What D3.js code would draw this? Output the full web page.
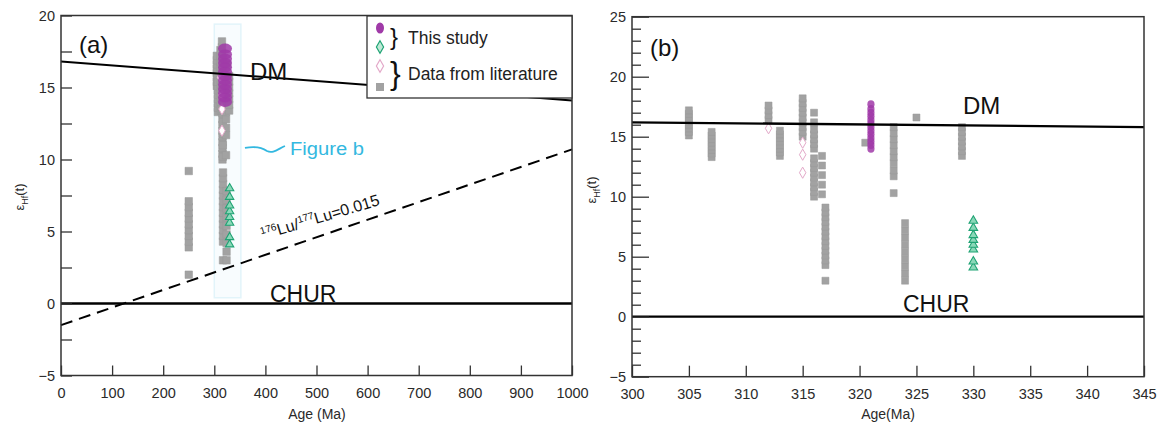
<!DOCTYPE html>
<html>
<head>
<meta charset="utf-8">
<script src="https://cdn.jsdelivr.net/npm/d3@7/dist/d3.min.js"></script>
<style>
  html, body { margin: 0; padding: 0; background: #fff; }
  svg { display: block; font-family: "Liberation Sans", Arial, sans-serif; }
</style>
</head>
<body>
<svg id="chart" width="1167" height="426"></svg>
<script>
// ---- Data -------------------------------------------------------------
// Reference evolution lines: [age (Ma), εHf(t)]
const dmLineA = [[0, 16.8], [1000, 14.1]];
const dmLineB = [[300, 16.2], [345, 15.8]];
const churLine = [[0, 0], [1000, 0]];
const luLine = [[0, -1.5], [1000, 10.7]];   // 176Lu/177Lu = 0.015 crustal trend

// This study: zircon Hf results, [age, list of εHf(t)]
const thisStudyPurple = [
  [321, [14.0, 14.3, 14.6, 14.9, 15.2, 15.5, 15.8, 16.1, 16.4, 16.7, 17.0, 17.3, 17.7]]
];
const thisStudyGreen = [
  [330, [4.1, 4.6, 5.6, 6.0, 6.4, 6.8, 7.4, 8.0]]
];

// Published data (grey squares)
const literatureGray = [
  [305, [15.1, 15.4, 15.7, 16.0, 16.3, 16.6, 16.9, 17.2]],
  [307, [13.3, 13.6, 13.9, 14.2, 14.5, 14.8, 15.1, 15.4]],
  [312, [16.4, 16.8, 17.2, 17.6]],
  [313, [13.4, 13.7, 14.0, 14.3, 14.6, 14.9, 15.2, 15.5]],
  [315, [15.0, 15.4, 15.8, 16.2, 16.6, 17.0, 17.4, 17.8, 18.2]],
  [316, [10.0, 10.4, 10.8, 11.2, 11.6, 12.0, 12.4, 12.8, 13.2, 14.0, 14.4, 14.8, 15.2, 15.6, 16.2, 17.0]],
  [316.7, [10.2, 11.0, 11.8, 12.6, 13.4]],
  [317, [3.0, 4.3, 4.7, 5.1, 5.5, 5.9, 6.3, 6.7, 7.1, 7.5, 7.9, 8.3, 8.7, 9.1]],
  [320.5, [14.5]],
  [323, [10.3, 11.7, 12.2, 12.8, 13.3, 13.8, 14.3, 14.8, 15.3, 15.8]],
  [324, [3.0, 3.6, 4.2, 4.8, 5.4, 6.0, 6.6, 7.2, 7.8]],
  [325, [16.6]],
  [329, [13.4, 13.8, 14.2, 14.6, 15.0, 15.4, 15.8]]
];
// Older published data shown only on the full age range
const literatureGrayOlder = [
  [250, [2.0, 3.9, 4.3, 4.7, 5.1, 5.5, 5.9, 6.3, 6.7, 7.1, 9.2]]
];
// Published data (open diamonds)
const literatureOpen = [
  [312, [15.7]],
  [315, [14.5, 13.5, 12.0]]
];

const xTicksA = d3.range(0, 1001, 100);
const yTicksA = [-5, 0, 5, 10, 15, 20];
const yMinorA = [-2.5, 2.5, 7.5, 12.5, 17.5];
const xTicksB = d3.range(300, 346, 5);
const yTicksB = [-5, 0, 5, 10, 15, 20, 25];
const yMinorB = d3.range(-5, 26, 1).filter(v => v % 5 !== 0);

const legendItems = ["This study", "Data from literature"];

// ---- Styles -----------------------------------------------------------
const COL_GRAY = "#a2a2a2";
const COL_PURPLE = "#a03aa8";
const COL_GREEN = "#1fa374";
const COL_PINK = "#e3a9c9";
const COL_CYAN = "#33b8e0";
const COL_AXIS = "#333";

const svg = d3.select("#chart");

// ---- Scales -----------------------------------------------------------
const xA = d3.scaleLinear().domain([0, 1000]).range([61, 572]);
const yA = d3.scaleLinear().domain([-5, 20]).range([375.5, 15.5]);
const xB = d3.scaleLinear().domain([300, 345]).range([632, 1144]);
const yB = d3.scaleLinear().domain([-5, 25]).range([376.7, 16.7]);

const flat = groups => groups.flatMap(([age, vals]) => vals.map(v => ({age, v})));

function drawAxes(g, x, y, xt, yt, ym, yMajorLen, yMinorLen, xLen) {
  const [x0, x1] = x.range();
  const [yb, yt0] = y.range();
  // bottom axis with inward ticks
  const ax = g.append("g").attr("transform", `translate(0,${yb})`)
    .call(d3.axisBottom(x).tickValues(xt).tickFormat(d3.format("d"))
      .tickSizeInner(-xLen).tickSizeOuter(0).tickPadding(12));
  ax.select(".domain").remove();
  // left axis, major
  const ay = g.append("g").attr("transform", `translate(${x0},0)`)
    .call(d3.axisLeft(y).tickValues(yt).tickFormat(d3.format("d"))
      .tickSizeInner(-yMajorLen).tickSizeOuter(0).tickPadding(6));
  ay.select(".domain").remove();
  // left axis, minor
  const am = g.append("g").attr("transform", `translate(${x0},0)`)
    .call(d3.axisLeft(y).tickValues(ym).tickSizeInner(-yMinorLen).tickSizeOuter(0).tickFormat(""));
  am.select(".domain").remove();
  g.selectAll(".tick line").attr("stroke", COL_AXIS).attr("stroke-width", 1.3);
  g.selectAll(".tick text").attr("fill", "#2a2a2a").style("font-size", "14.5px")
    .style("font-family", "'Liberation Sans', Arial, sans-serif");
  // frame
  g.append("rect").attr("x", x0).attr("y", yt0).attr("width", x1 - x0).attr("height", yb - yt0)
    .attr("fill", "none").attr("stroke", COL_AXIS).attr("stroke-width", 1.5);
}

function drawLine(g, x, y, pts, width, dash) {
  g.append("path")
    .attr("d", d3.line().x(d => x(d[0])).y(d => y(d[1]))(pts))
    .attr("fill", "none").attr("stroke", "#000").attr("stroke-width", width)
    .attr("stroke-dasharray", dash || null);
}

function drawPoints(g, x, y, s) {
  const sq = d3.symbol().type(d3.symbolSquare).size(s.sq);
  const tri = d3.symbol().type(d3.symbolTriangle).size(s.tri);
  const dia = d3.symbol().type(d3.symbolDiamond).size(s.dia);
  const all = literatureGray.concat(s.extraGray || []);
  g.append("g").selectAll("path").data(flat(all)).join("path")
    .attr("d", sq).attr("transform", d => `translate(${x(d.age)},${y(d.v)})`)
    .attr("fill", COL_GRAY).attr("stroke", "#999").attr("stroke-width", 0.5);
  g.append("g").selectAll("path").data(flat(literatureOpen)).join("path")
    .attr("d", dia).attr("transform", d => `translate(${x(d.age)},${y(d.v)})`)
    .attr("fill", "#fff").attr("stroke", COL_PINK).attr("stroke-width", 1);
  g.append("g").selectAll("ellipse").data(flat(thisStudyPurple)).join("ellipse")
    .attr("cx", d => x(d.age)).attr("cy", d => y(d.v)).attr("rx", s.prx).attr("ry", s.pry)
    .attr("fill", COL_PURPLE).attr("fill-opacity", 0.85);
  g.append("g").selectAll("path").data(flat(thisStudyGreen)).join("path")
    .attr("d", tri).attr("transform", d => `translate(${x(d.age)},${y(d.v)})`)
    .attr("fill", "#8ad8b8").attr("stroke", COL_GREEN).attr("stroke-width", 1.1);
}

// ---- Panel (a) ---------------------------------------------------------
const gA = svg.append("g");
// outline of the age window enlarged in panel (b)
gA.append("rect")
  .attr("x", xA(300)).attr("y", yA(19.4))
  .attr("width", xA(352) - xA(300)).attr("height", yA(0.4) - yA(19.4))
  .attr("fill", "#f8fcfe").attr("stroke", "#e2f4fa").attr("stroke-width", 1.5);
drawLine(gA, xA, yA, churLine, 2.3);
drawLine(gA, xA, yA, luLine, 2, "12,7");
drawPoints(gA, xA, yA, {sq: 56, tri: 30, dia: 36, prx: 7, pry: 5, extraGray: literatureGrayOlder});
drawLine(gA, xA, yA, dmLineA, 2);
drawAxes(gA, xA, yA, xTicksA, yTicksA, yMinorA, 11, 11, 10);

gA.append("text").attr("x", 79).attr("y", 53).text("(a)").style("font-size", "24px").attr("fill", "#111");
gA.append("text").attr("x", 250).attr("y", 80).text("DM").style("font-size", "24px").attr("fill", "#111");
gA.append("text").attr("x", 270).attr("y", 302).text("CHUR").style("font-size", "23px").attr("fill", "#111");

// slope label along the dashed trend
{
  const p0 = [xA(395), yA(4.4)], p1 = [xA(648), yA(7.1)];
  const ang = Math.atan2(p1[1] - p0[1], p1[0] - p0[0]) * 180 / Math.PI;
  const t = gA.append("text").attr("transform", `translate(${p0[0]},${p0[1]}) rotate(${ang})`)
    .attr("fill", "#111").style("font-size", "16px");
  t.append("tspan").text("176").style("font-size", "10px").attr("dy", -6);
  t.append("tspan").text("Lu/").attr("dy", 6);
  t.append("tspan").text("177").style("font-size", "10px").attr("dy", -6);
  t.append("tspan").text("Lu=0.015").attr("dy", 6);
}

// pointer to panel (b)
{
  const ax0 = xA(360), ay0 = yA(10.8);
  const wave = d3.path();
  wave.moveTo(ax0, ay0);
  wave.bezierCurveTo(ax0 + 10, ay0 - 2, ax0 + 16, ay0 - 1, ax0 + 22, ay0 + 3);
  wave.bezierCurveTo(ax0 + 28, ay0 + 6, ax0 + 33, ay0 + 1, ax0 + 40, ay0 - 2);
  gA.append("path").attr("d", wave.toString()).attr("fill", "none")
    .attr("stroke", COL_CYAN).attr("stroke-width", 1.8);
  gA.append("text").attr("x", ax0 + 45).attr("y", ay0 + 7).text("Figure b")
    .attr("fill", COL_CYAN).style("font-size", "18px").attr("textLength", 74)
    .attr("lengthAdjust", "spacingAndGlyphs");
}

// legend
{
  const lg = gA.append("g");
  lg.append("rect").attr("x", 367).attr("y", 16).attr("width", 205).attr("height", 82)
    .attr("fill", "#fff").attr("stroke", COL_AXIS).attr("stroke-width", 1.3);
  const mx = 380;
  lg.append("ellipse").attr("cx", mx).attr("cy", 28).attr("rx", 4).attr("ry", 5.5).attr("fill", COL_PURPLE);
  lg.append("path").attr("d", d3.symbol().type(d3.symbolDiamond).size(45)())
    .attr("transform", `translate(${mx},47)`).attr("fill", "#bfe9d6").attr("stroke", COL_GREEN).attr("stroke-width", 1.2);
  lg.append("path").attr("d", d3.symbol().type(d3.symbolDiamond).size(45)())
    .attr("transform", `translate(${mx},66)`).attr("fill", "#fff").attr("stroke", COL_PINK).attr("stroke-width", 1.2);
  lg.append("path").attr("d", d3.symbol().type(d3.symbolSquare).size(64)())
    .attr("transform", `translate(${mx},87)`).attr("fill", COL_GRAY);
  lg.append("text").attr("x", 390).attr("y", 45).text("}").style("font-size", "24px").attr("fill", "#111");
  lg.append("text").attr("x", 390).attr("y", 84).text("}").style("font-size", "32px").attr("fill", "#111");
  lg.selectAll("text.lbl").data(legendItems).join("text").attr("class", "lbl")
    .attr("x", 408).attr("y", (d, i) => i === 0 ? 44 : 80).text(d => d)
    .style("font-size", "17.5px").attr("fill", "#222");
}

gA.append("text").attr("x", 317).attr("y", 419).attr("text-anchor", "middle")
  .text("Age (Ma)").style("font-size", "14px").attr("fill", "#2a2a2a");
function yTitle(g, x, y) {
  const t = g.append("text").attr("transform", `translate(${x},${y}) rotate(-90)`)
    .attr("text-anchor", "middle").style("font-size", "13px").attr("fill", "#2a2a2a");
  t.append("tspan").text("ε");
  t.append("tspan").text("Hf").style("font-size", "9px").attr("dy", 4);
  t.append("tspan").text("(t)").attr("dy", -4);
}
yTitle(gA, 24, 197);

// ---- Panel (b) ---------------------------------------------------------
const gB = svg.append("g");
drawLine(gB, xB, yB, [[300, 0], [345, 0]], 2.3);
drawPoints(gB, xB, yB, {sq: 49, tri: 32, dia: 36, prx: 3.6, pry: 4});
drawLine(gB, xB, yB, dmLineB, 2.3);
drawAxes(gB, xB, yB, xTicksB, yTicksB, yMinorB, 17, 9, 11);

gB.append("text").attr("x", 650).attr("y", 56).text("(b)").style("font-size", "24px").attr("fill", "#111");
gB.append("text").attr("x", 963).attr("y", 114).text("DM").style("font-size", "24px").attr("fill", "#111");
gB.append("text").attr("x", 903).attr("y", 312).text("CHUR").style("font-size", "23px").attr("fill", "#111");
gB.append("text").attr("x", 888).attr("y", 419).attr("text-anchor", "middle")
  .text("Age(Ma)").style("font-size", "14px").attr("fill", "#2a2a2a");
yTitle(gB, 596, 190);
</script>
</body>
</html>
